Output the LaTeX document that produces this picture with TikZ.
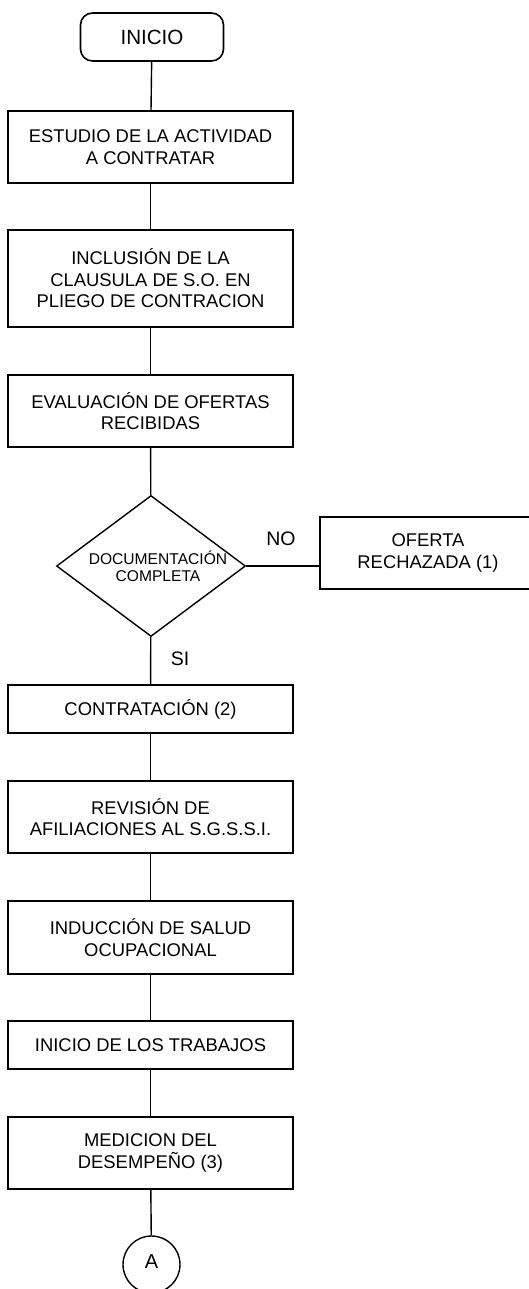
\documentclass[tikz,border=0pt]{standalone}
\usepackage{fontspec}
\setmainfont{Liberation Sans}
\usetikzlibrary{shapes.geometric}

\begin{document}
\begin{tikzpicture}[x=1pt,y=-1pt,
		paso/.style={draw, line width=1.8pt, minimum width=285pt, inner sep=0pt, align=center,
			font=\fontsize{18.4}{21.5}\selectfont},
		terminal/.style={draw, line width=1.6pt, rounded corners=12pt, minimum width=143pt, minimum height=48pt,
			inner sep=0pt, font=\fontsize{20.6}{24}\selectfont},
		decision/.style={draw, diamond, line width=1.4pt, minimum width=189pt, minimum height=141pt,
			inner sep=0pt, aspect=1.34},
		textodecision/.style={xshift=7pt, align=center, inner sep=0pt, font=\fontsize{15.6}{16.7}\selectfont},
		conector/.style={draw, circle, line width=1.4pt, minimum size=57pt, inner sep=0pt,
			font=\fontsize{20}{24}\selectfont},
		etiqueta/.style={font=\fontsize{19.5}{23}\selectfont, inner sep=0pt},
		linea/.style={line width=1.4pt}]
		\useasboundingbox (0,0) rectangle (529,1289);
		% cuerpo del diagrama
		\node [terminal] (inicio) at (152,37) {INICIO};
		\node [paso, minimum height=72pt] (estudio) at (150.5,147) {ESTUDIO DE LA ACTIVIDAD\\A CONTRATAR};
		\node [paso, minimum height=97pt] (inclusion) at (150.5,278.5) {INCLUSIÓN DE LA\\CLAUSULA DE S.O. EN\\PLIEGO DE CONTRACION};
		\node [paso, minimum height=72pt] (evaluacion) at (150.5,411) {EVALUACIÓN DE OFERTAS\\RECIBIDAS};
		\node [decision, label={[textodecision]center:DOCUMENTACIÓN\\COMPLETA}] (documentacion) at (151,566) {};
		\node [paso, minimum width=216pt, minimum height=72pt] (oferta) at (428,553) {OFERTA\\RECHAZADA (1)};
		\node [paso, minimum height=48pt] (contratacion) at (150.5,709) {CONTRATACIÓN (2)};
		\node [paso, minimum height=72pt] (revision) at (150.5,817) {REVISIÓN DE\\AFILIACIONES AL S.G.S.S.I.};
		\node [paso, minimum height=73pt] (induccion) at (150.5,937.5) {INDUCCIÓN DE SALUD\\OCUPACIONAL};
		\node [paso, minimum height=48pt] (trabajos) at (150.5,1045) {INICIO DE LOS TRABAJOS};
		\node [paso, minimum height=72pt] (medicion) at (150.5,1153) {MEDICION DEL\\DESEMPEÑO (3)};
		\node [conector] (a) at (151.5,1264.5) {\raisebox{5pt}{A}};
		% etiquetas
		\node [etiqueta] (no) at (281,539) {NO};
		\node [etiqueta] (si) at (180,659) {SI};
		% lineas
		\draw [linea] (inicio) -- (estudio);
		\draw [linea] (estudio) -- (inclusion);
		\draw [linea] (inclusion) -- (evaluacion);
		\draw [linea] (evaluacion) -- (documentacion);
		\draw [linea] (documentacion.east) -- (documentacion.east -| oferta.west);
		\draw [linea] (documentacion) -- (contratacion);
		\draw [linea] (contratacion) -- (revision);
		\draw [linea] (revision) -- (induccion);
		\draw [linea] (induccion) -- (trabajos);
		\draw [linea] (trabajos) -- (medicion);
		\draw [linea] (medicion) -- (a);
	\end{tikzpicture}
\end{document}
